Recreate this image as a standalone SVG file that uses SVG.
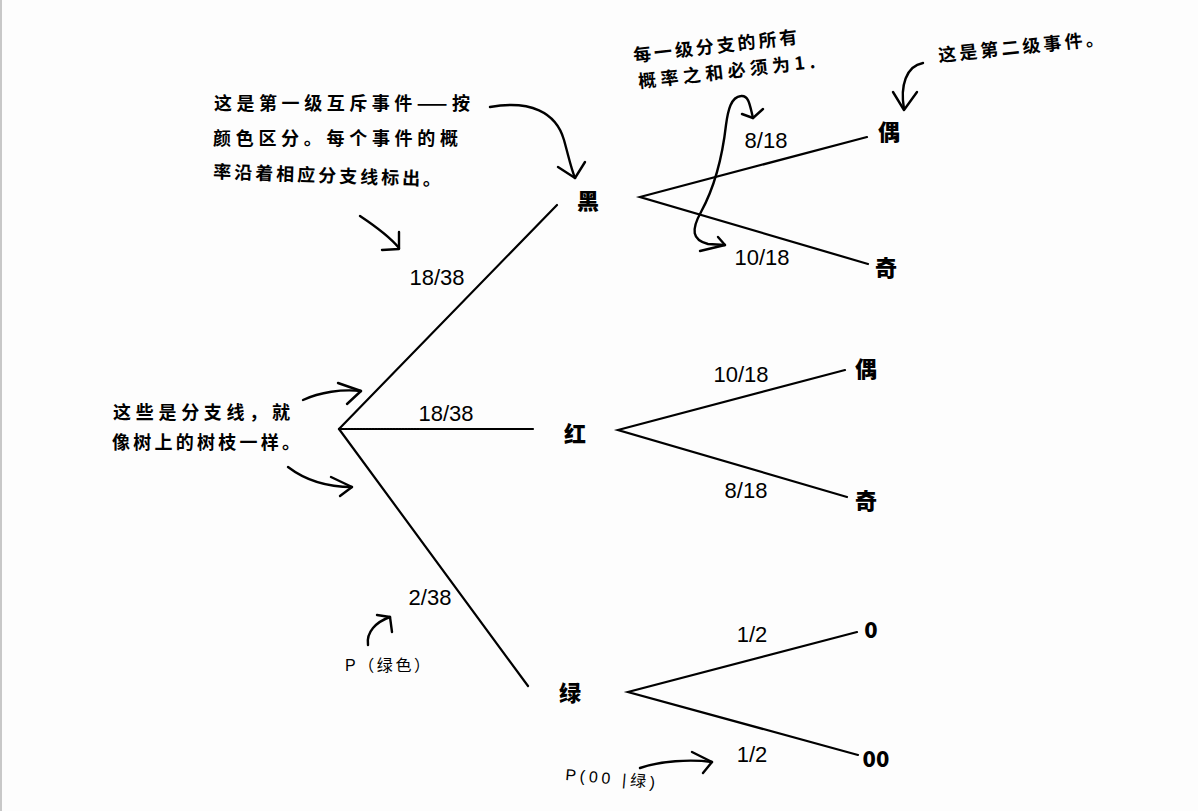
<svg xmlns="http://www.w3.org/2000/svg" width="1198" height="811" viewBox="0 0 1198 811">
<style>
.ln{stroke:#000;stroke-width:2.2;fill:none;stroke-linecap:round}
.hw{stroke:#000;stroke-width:2.4;fill:none;stroke-linecap:round;stroke-linejoin:round}
.nd{font-family:"Noto Sans CJK SC",sans-serif;font-weight:900;font-size:22px;fill:#000;text-anchor:middle}
.num{font-family:"Liberation Sans",Arial,sans-serif;font-size:22px;fill:#000;text-anchor:middle}
.nt{font-family:"Noto Sans CJK SC",sans-serif;font-weight:700;font-size:18px;fill:#000}
.ntp{font-family:"Liberation Sans","Noto Sans CJK SC",sans-serif;font-size:16px;fill:#000}
</style>
<rect x="0" y="0" width="1198" height="811" fill="#fdfdfd"/>
<rect x="0" y="0" width="2" height="811" fill="#c8c8c8"/>

<g id="connectors">
  <line class="ln" x1="339" y1="429" x2="557" y2="205"/>
  <line class="ln" x1="339" y1="429" x2="420" y2="429" stroke-dasharray="2 1"/>
  <line class="ln" x1="420" y1="429" x2="533" y2="429"/>
  <line class="ln" x1="339" y1="429" x2="528" y2="686"/>
  <polyline class="ln" points="867,137 640,197 868,264"/>
  <polyline class="ln" points="845,370 618,430 847,497"/>
  <polyline class="ln" points="857,632 628,692 858,755"/>
</g>

<g id="annotation-arrows">
  <path class="hw" d="M490,107 C530,100 556,112 564,140 C569,158 571,168 575,178"/>
  <polyline class="hw" points="558,167 575,178 585,162"/>
  <path class="hw" d="M360,216 C375,226 390,237 399,248"/>
  <polyline class="hw" points="399,232 399,249 382,250"/>
  <path class="hw" d="M753,118 C750,106 749,95 741,96 C731,97 728,110 726,125 C722,160 713,190 701,212 C691,230 692,240 708,244 L725,245"/>
  <polyline class="hw" points="742,114 753,118 763,109"/>
  <polyline class="hw" points="718,237 725,245 700,251"/>
  <path class="hw" d="M923,63 C906,66 900,86 904,109"/>
  <polyline class="hw" points="893,92 904,110 917,92"/>
  <path class="hw" d="M303,400 C320,392 342,389 361,391"/>
  <polyline class="hw" points="338,383 361,391 347,404"/>
  <path class="hw" d="M288,467 C305,480 328,487 352,487"/>
  <polyline class="hw" points="331,477 352,487 340,496"/>
  <path class="hw" d="M368,645 C366,632 376,622 390,617"/>
  <polyline class="hw" points="377,615 390,617 392,632"/>
  <path class="hw" d="M640,768 C660,761 690,759 712,762"/>
  <polyline class="hw" points="692,752 712,762 703,773"/>
</g>

<g id="edge-labels">
  <text class="num" x="437" y="285">18/38</text>
  <text class="num" x="446" y="421">18/38</text>
  <text class="num" x="430" y="605">2/38</text>
  <text class="num" x="766" y="148">8/18</text>
  <text class="num" x="762" y="265">10/18</text>
  <text class="num" x="741" y="382">10/18</text>
  <text class="num" x="746" y="498">8/18</text>
  <text class="num" x="752" y="642">1/2</text>
  <text class="num" x="752" y="762">1/2</text>
</g>

<g id="node-black"><text class="nd" x="588" y="209">黑</text></g>
<g id="node-red"><text class="nd" x="575" y="442">红</text></g>
<g id="node-green"><text class="nd" x="570" y="701">绿</text></g>
<g id="node-black-even"><text class="nd" x="889" y="140">偶</text></g>
<g id="node-black-odd"><text class="nd" x="886" y="276">奇</text></g>
<g id="node-red-even"><text class="nd" x="866" y="377">偶</text></g>
<g id="node-red-odd"><text class="nd" x="866" y="509">奇</text></g>
<g id="node-green-0"><text class="nd" x="871" y="638" font-family="Liberation Sans,sans-serif">0</text></g>
<g id="node-green-00"><text class="nd" x="876" y="767" font-family="Liberation Sans,sans-serif">00</text></g>

<g id="notes">
  <text class="nt" x="214" y="110" textLength="256" lengthAdjust="spacing">这是第一级互斥事件——按</text>
  <text class="nt" x="213" y="145" textLength="245" lengthAdjust="spacing">颜色区分。每个事件的概</text>
  <text class="nt" x="213" y="178" textLength="228" lengthAdjust="spacing" transform="rotate(2 213 178)">率沿着相应分支线标出。</text>
  <text class="nt" transform="translate(634,62) rotate(-6.5)" textLength="165" lengthAdjust="spacing">每一级分支的所有</text>
  <text class="nt" transform="translate(639,88) rotate(-6.5)" textLength="178" lengthAdjust="spacing">概率之和必须为1.</text>
  <text class="nt" transform="translate(939,62) rotate(-6)" textLength="166" lengthAdjust="spacing">这是第二级事件。</text>
  <text class="nt" x="113" y="419" textLength="177" lengthAdjust="spacing">这些是分支线，就</text>
  <text class="nt" x="112" y="449" textLength="188" lengthAdjust="spacing">像树上的树枝一样。</text>
  <text class="ntp" x="345" y="671" textLength="85" lengthAdjust="spacing">P（绿色）</text>
  <text class="ntp" transform="translate(565,780) rotate(5)" textLength="90" lengthAdjust="spacing">P(00 |绿)</text>
</g>
</svg>
